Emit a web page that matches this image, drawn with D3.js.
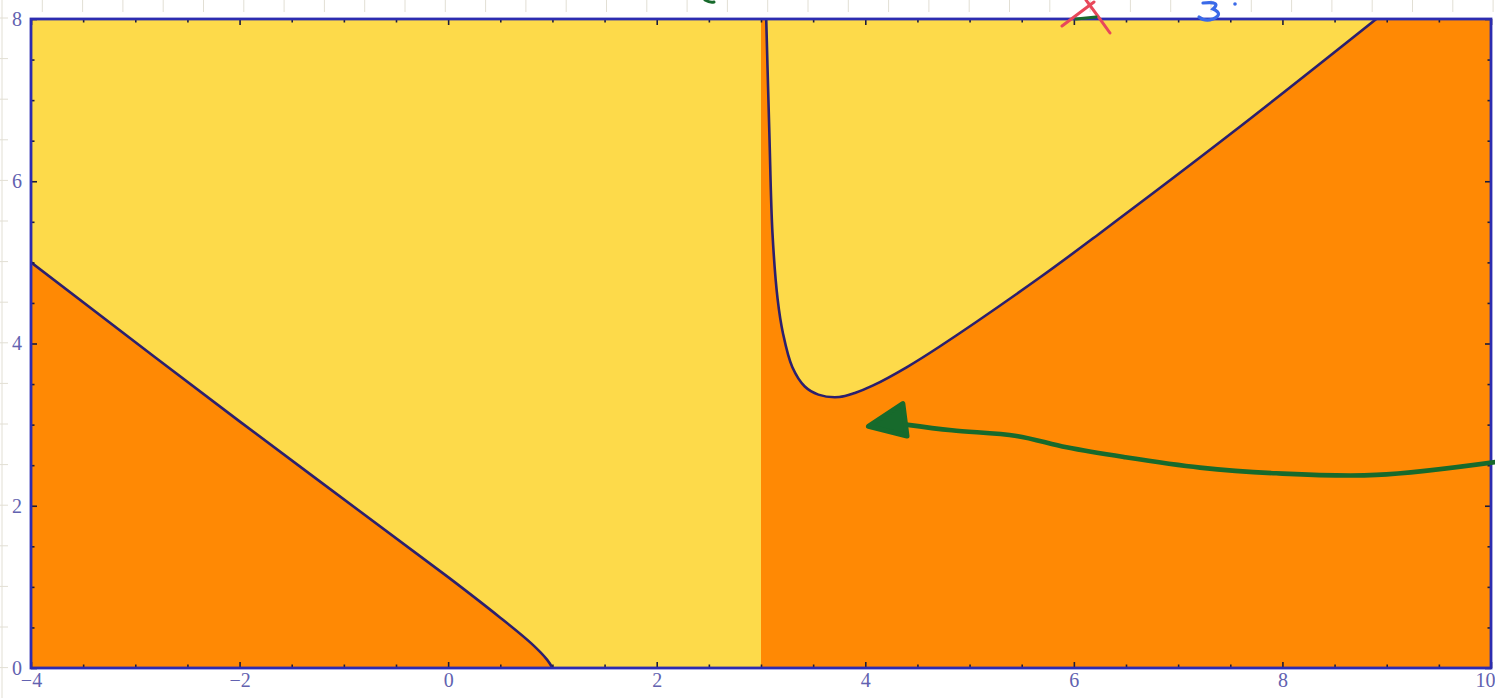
<!DOCTYPE html>
<html>
<head>
<meta charset="utf-8">
<script src="https://cdn.jsdelivr.net/npm/d3@7"></script>
<style>
  html, body { margin: 0; padding: 0; background: #ffffff; }
  svg { display: block; }
</style>
</head>
<body>
<svg id="chart" width="1495" height="698"></svg>
<script>
// ---------------- data ----------------
const xDomain = [-4, 10];
const yDomain = [0, 8];
const xTickValues = [-4, -2, 0, 2, 4, 6, 8, 10];
const yTickValues = [0, 2, 4, 6, 8];
const xTickLabels = ["\u22124", "\u22122", "0", "2", "4", "6", "8", "10"];
const yTickLabels = ["0", "2", "4", "6", "8"];
// left boundary curve (x, y), from (-4,5) down to (1,0)
const leftCurve = [
  [-4, 5.0], [-2, 3.04], [0, 1.12], [0.5, 0.62], [0.8, 0.3], [0.95, 0.1], [1.0, 0]
];
// right boundary curve (x, y), from the top near x=3 through the minimum and out to the top edge
const rightCurve = [
  [3.05, 8.0], [3.08, 6.6], [3.11, 5.36], [3.16, 4.54], [3.21, 4.13],
  [3.30, 3.71], [3.42, 3.47], [3.55, 3.37], [3.75, 3.34], [3.9, 3.39],
  [4.07, 3.48], [4.4, 3.71], [4.71, 3.96], [5.67, 4.81], [6.25, 5.36],
  [7.52, 6.60], [8.90, 8.0]
];
const splitX = 3; // vertical boundary between regions
// hand-drawn green arrow (x, y in data units)
const arrowPath = [
  [10.05, 2.54], [8.90, 2.38], [7.94, 2.40], [7.21, 2.47], [6.48, 2.60],
  [5.93, 2.72], [5.45, 2.86], [4.83, 2.93], [4.39, 3.0]
];
const arrowHead = [[4.03, 2.98], [4.36, 3.26], [4.40, 2.86]];

// ---------------- layout ----------------
const svg = d3.select("#chart");
const W = 1495, H = 698;
const x = d3.scaleLinear().domain(xDomain).range([31, 1491]);
const y = d3.scaleLinear().domain(yDomain).range([668, 19]);

// background graph paper
const bg = svg.append("g");
for (let gx = 2; gx < W; gx += 40.3) {
  bg.append("line").attr("x1", gx).attr("x2", gx).attr("y1", 0).attr("y2", H)
    .attr("stroke", "#e2dfd4").attr("stroke-width", 1);
}
for (let gy = 18; gy < H; gy += 40.6) {
  bg.append("line").attr("x1", 0).attr("x2", W).attr("y1", gy).attr("y2", gy)
    .attr("stroke", "#e2dfd4").attr("stroke-width", 1);
}
// white pane behind the plot (the notebook cell)
svg.append("rect").attr("x", 8).attr("y", 12).attr("width", W - 8).attr("height", H - 12).attr("fill", "#ffffff");

// clip
svg.append("defs").append("clipPath").attr("id", "plotclip")
  .append("rect").attr("x", x(xDomain[0])).attr("y", y(yDomain[1]))
  .attr("width", x(xDomain[1]) - x(xDomain[0])).attr("height", y(yDomain[0]) - y(yDomain[1]));

const plot = svg.append("g").attr("clip-path", "url(#plotclip)");

const YELLOW = "#fdda4a", ORANGE = "#ff8904";
plot.append("rect").attr("x", x(xDomain[0])).attr("y", y(yDomain[1]))
  .attr("width", x(xDomain[1]) - x(xDomain[0])).attr("height", y(yDomain[0]) - y(yDomain[1]))
  .attr("fill", YELLOW);

const line = d3.line().x(d => x(d[0])).y(d => y(d[1])).curve(d3.curveCatmullRom.alpha(0.5));
const leftD = line(leftCurve);
const rightD = line(rightCurve);

// left orange region
plot.append("path")
  .attr("d", `M${x(xDomain[0])},${y(0)}L` + leftD.slice(1) + "Z")
  .attr("fill", ORANGE);
// right orange region
plot.append("path")
  .attr("d", `M${x(splitX)},${y(0)}L${x(splitX)},${y(yDomain[1])}L` + rightD.slice(1) +
        `L${x(xDomain[1])},${y(yDomain[1])}L${x(xDomain[1])},${y(0)}Z`)
  .attr("fill", ORANGE);

// boundary curves
[leftD, rightD].forEach(d => {
  plot.append("path").attr("d", d).attr("fill", "none")
    .attr("stroke", "#2b1f6e").attr("stroke-width", 2.6).attr("stroke-linejoin", "round");
});

// ---------------- axes (frame ticks) ----------------
const minorX = d3.range(xDomain[0], xDomain[1] + 0.001, 0.5).filter(v => Math.abs(v % 2) > 1e-9);
const minorY = d3.range(yDomain[0], yDomain[1] + 0.001, 0.5).filter(v => Math.abs(v % 2) > 1e-9);

function styleAxis(g) {
  g.attr("font-size", null).attr("font-family", null);
  g.select(".domain").remove();
  g.selectAll(".tick line").attr("stroke", "#1c1c3a").attr("stroke-width", 1.6);
  g.selectAll(".tick text")
    .style("font-family", "'Liberation Serif', 'DejaVu Serif', serif")
    .style("font-size", "20px").style("fill", "#6262b0");
}
const xLab = d => xTickLabels[xTickValues.indexOf(d)];
const yLab = d => yTickLabels[yTickValues.indexOf(d)];

const xAxisG = svg.append("g").attr("transform", `translate(0,${y(0)})`)
  .call(d3.axisBottom(x).tickValues(xTickValues).tickFormat(xLab).tickSizeInner(-6).tickSizeOuter(0).tickPadding(5))
  .call(styleAxis);
// keep the last label inside the picture
xAxisG.selectAll(".tick text").filter(d => d === xDomain[1]).attr("text-anchor", "end").attr("dx", 4);
svg.append("g").attr("transform", `translate(0,${y(0)})`)
  .call(d3.axisBottom(x).tickValues(minorX).tickFormat("").tickSizeInner(-3.5).tickSizeOuter(0))
  .call(styleAxis);
svg.append("g").attr("transform", `translate(0,${y(yDomain[1])})`)
  .call(d3.axisTop(x).tickValues(xTickValues).tickFormat("").tickSizeInner(-6).tickSizeOuter(0))
  .call(styleAxis);
svg.append("g").attr("transform", `translate(0,${y(yDomain[1])})`)
  .call(d3.axisTop(x).tickValues(minorX).tickFormat("").tickSizeInner(-3.5).tickSizeOuter(0))
  .call(styleAxis);
svg.append("g").attr("transform", `translate(${x(xDomain[0])},0)`)
  .call(d3.axisLeft(y).tickValues(yTickValues).tickFormat(yLab).tickSizeInner(-6).tickSizeOuter(0).tickPadding(9))
  .call(styleAxis);
svg.append("g").attr("transform", `translate(${x(xDomain[0])},0)`)
  .call(d3.axisLeft(y).tickValues(minorY).tickFormat("").tickSizeInner(-3.5).tickSizeOuter(0))
  .call(styleAxis);
svg.append("g").attr("transform", `translate(${x(xDomain[1])},0)`)
  .call(d3.axisRight(y).tickValues(yTickValues).tickFormat("").tickSizeInner(-6).tickSizeOuter(0))
  .call(styleAxis);
svg.append("g").attr("transform", `translate(${x(xDomain[1])},0)`)
  .call(d3.axisRight(y).tickValues(minorY).tickFormat("").tickSizeInner(-3.5).tickSizeOuter(0))
  .call(styleAxis);

// frame
svg.append("rect").attr("x", x(xDomain[0])).attr("y", y(yDomain[1]))
  .attr("width", x(xDomain[1]) - x(xDomain[0])).attr("height", y(yDomain[0]) - y(yDomain[1]))
  .attr("fill", "none").attr("stroke", "#2c2cb0").attr("stroke-width", 2.8);

// ---------------- hand-drawn annotations ----------------
const ann = svg.append("g");
const smooth = d3.line().x(d => x(d[0])).y(d => y(d[1])).curve(d3.curveCatmullRom.alpha(0.5));
ann.append("path").attr("d", smooth(arrowPath)).attr("fill", "none")
  .attr("stroke", "#176a2c").attr("stroke-width", 4.6).attr("stroke-linecap", "round");
ann.append("path").attr("d", d3.line().x(d => x(d[0])).y(d => y(d[1])).curve(d3.curveLinearClosed)(arrowHead))
  .attr("fill", "#176a2c").attr("stroke", "#176a2c").attr("stroke-width", 5).attr("stroke-linejoin", "round");

// marks along the top edge
ann.append("path").attr("d", "M1062,26 Q1078,14 1094,2").attr("fill", "none")
  .attr("stroke", "#e8485a").attr("stroke-width", 3).attr("stroke-linecap", "round");
ann.append("path").attr("d", "M1086,0 Q1098,16 1110,33").attr("fill", "none")
  .attr("stroke", "#e8485a").attr("stroke-width", 3).attr("stroke-linecap", "round");
ann.append("path").attr("d", "M1076,19 L1096,17").attr("fill", "none")
  .attr("stroke", "#176a2c").attr("stroke-width", 3).attr("stroke-linecap", "round");
ann.append("path").attr("d", "M1203,3 Q1222,1 1213,9 Q1224,14 1213,19 Q1205,22 1199,17").attr("fill", "none")
  .attr("stroke", "#3a6ae8").attr("stroke-width", 3.2).attr("stroke-linecap", "round");
ann.append("circle").attr("cx", 1235).attr("cy", 4).attr("r", 1.8).attr("fill", "#3a6ae8");
ann.append("path").attr("d", "M705,0 Q710,3 714,2").attr("fill", "none")
  .attr("stroke", "#176a2c").attr("stroke-width", 3).attr("stroke-linecap", "round");
</script>
</body>
</html>
